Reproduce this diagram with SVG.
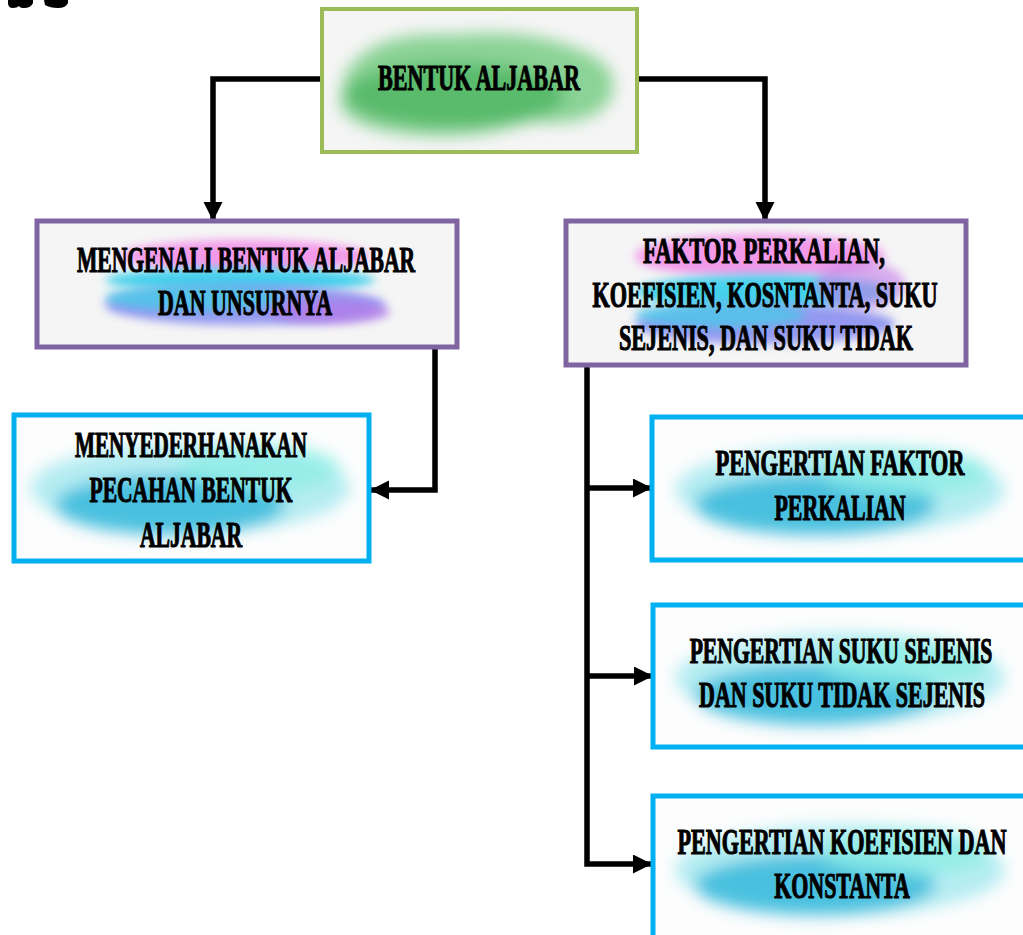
<svg xmlns="http://www.w3.org/2000/svg" width="1023" height="935" viewBox="0 0 1023 935">
  <style>
    .lbl { font-family: "Liberation Serif", "DejaVu Serif", serif; font-weight: bold; font-size: 36px; fill: #000; stroke: #000; stroke-width: 1.2; text-anchor: middle; }
    .box { fill: #f5f5f5; }
    .boxw { fill: #fdfdfd; }
    .green { stroke: #9bbb59; stroke-width: 4; }
    .purple { stroke: #8064a2; stroke-width: 5; }
    .cyan { stroke: #00b0f0; stroke-width: 5; fill: none; }
    .wire { fill: none; stroke: #000; stroke-width: 5.5; stroke-linejoin: miter; }
  </style>
  <defs>
    <marker id="arrow" markerUnits="userSpaceOnUse" markerWidth="20" markerHeight="20" refX="19" refY="9.5" orient="auto">
      <path d="M0,0 L19,9.5 L0,19 Z" fill="#000"/>
    </marker>
    <filter id="soft" x="-30%" y="-50%" width="160%" height="200%">
      <feGaussianBlur stdDeviation="8"/>
    </filter>
    <filter id="softer" x="-30%" y="-60%" width="160%" height="220%">
      <feGaussianBlur stdDeviation="5"/>
    </filter>
    <clipPath id="clipTop"><rect x="324" y="11" width="311" height="139"/></clipPath>
    <clipPath id="clipN2"><rect x="39" y="223" width="416" height="123"/></clipPath>
    <clipPath id="clipN3"><rect x="568" y="223" width="396" height="141"/></clipPath>
    <clipPath id="clipN4"><rect x="16" y="418" width="351" height="140"/></clipPath>
    <clipPath id="clipN5"><rect x="655" y="420" width="368" height="138"/></clipPath>
    <clipPath id="clipN6"><rect x="656" y="608" width="367" height="137"/></clipPath>
    <clipPath id="clipN7"><rect x="656" y="799" width="367" height="136"/></clipPath>
  </defs>

  <rect width="1023" height="935" fill="#ffffff"/>

  <!-- heading fragment at the top edge -->
  <g id="heading-fragment" fill="#000">
    <path d="M8,0 H33 V3 Q31,8 24,8 Q20,8 19,6 Q17,8 13,8 Q8,8 8,3 Z"/>
    <path d="M44,0 H68 V3 Q66,8 58,8 Q50,8 45,5 Z"/>
  </g>

  <!-- connectors -->
  <g id="connectors">
    <path class="wire" d="M322,79 H213 V221" marker-end="url(#arrow)"/>
    <path class="wire" d="M637,79 H765 V221" marker-end="url(#arrow)"/>
    <path class="wire" d="M435,348 V490 H370" marker-end="url(#arrow)"/>
    <path class="wire" d="M587,366 V864 H652" marker-end="url(#arrow)"/>
    <path class="wire" d="M587,488 H652" marker-end="url(#arrow)"/>
    <path class="wire" d="M587,676 H653" marker-end="url(#arrow)"/>
  </g>

  <!-- root -->
  <g id="bentuk-aljabar">
    <rect class="box green" x="322" y="9" width="315" height="143"/>
    <g clip-path="url(#clipTop)" filter="url(#soft)">
      <path d="M345,75 Q370,30 450,35 Q530,28 580,50 Q620,65 612,95 Q600,128 530,122 Q470,142 405,134 Q340,126 340,100 Z" fill="#7fcf8c" opacity="0.9"/>
      <ellipse cx="455" cy="95" rx="110" ry="32" fill="#4cb560" opacity="0.8"/>
    </g>
    <text class="lbl" transform="translate(479,90) scale(0.58,1)" textLength="348" lengthAdjust="spacingAndGlyphs">BENTUK ALJABAR</text>
  </g>

  <!-- left branch -->
  <g id="mengenali">
    <rect class="box purple" x="37" y="221" width="420" height="126"/>
    <g clip-path="url(#clipN2)">
      <ellipse cx="245" cy="256" rx="125" ry="16" fill="#f28ae8" opacity="0.85" filter="url(#softer)"/>
      <ellipse cx="240" cy="280" rx="135" ry="12" fill="#44d0ec" filter="url(#softer)"/>
      <ellipse cx="245" cy="305" rx="140" ry="20" fill="#8a8ff0" opacity="0.9" filter="url(#softer)"/>
      <ellipse cx="195" cy="298" rx="90" ry="13" fill="#4cc8e8" opacity="0.85" filter="url(#softer)"/>
      <ellipse cx="330" cy="312" rx="60" ry="12" fill="#b27ce8" opacity="0.8" filter="url(#softer)"/>
    </g>
    <text class="lbl" transform="translate(246,272) scale(0.58,1)" textLength="583" lengthAdjust="spacingAndGlyphs">MENGENALI BENTUK ALJABAR</text>
    <text class="lbl" transform="translate(245,315) scale(0.58,1)" textLength="300" lengthAdjust="spacingAndGlyphs">DAN UNSURNYA</text>
  </g>

  <!-- right branch -->
  <g id="faktor-perkalian">
    <rect class="box purple" x="566" y="221" width="400" height="144"/>
    <g clip-path="url(#clipN3)">
      <ellipse cx="760" cy="256" rx="125" ry="22" fill="#f28ae8" opacity="0.85" filter="url(#softer)"/>
      <ellipse cx="765" cy="292" rx="130" ry="17" fill="#44d0ec" filter="url(#softer)"/>
      <ellipse cx="765" cy="324" rx="130" ry="20" fill="#8a8ff0" opacity="0.9" filter="url(#softer)"/>
      <ellipse cx="720" cy="315" rx="85" ry="13" fill="#4cc8e8" opacity="0.8" filter="url(#softer)"/>
      <ellipse cx="860" cy="285" rx="45" ry="24" fill="#c47ce8" opacity="0.6" filter="url(#softer)"/>
    </g>
    <text class="lbl" transform="translate(764,263) scale(0.58,1)" textLength="417" lengthAdjust="spacingAndGlyphs">FAKTOR PERKALIAN,</text>
    <text class="lbl" transform="translate(765,307) scale(0.58,1)" textLength="595" lengthAdjust="spacingAndGlyphs">KOEFISIEN, KOSNTANTA, SUKU</text>
    <text class="lbl" transform="translate(766,350) scale(0.58,1)" textLength="507" lengthAdjust="spacingAndGlyphs">SEJENIS, DAN SUKU TIDAK</text>
  </g>

  <g id="menyederhanakan">
    <rect class="boxw" x="14" y="415" width="355" height="146"/>
    <g clip-path="url(#clipN4)" filter="url(#soft)">
      <ellipse cx="190" cy="488" rx="160" ry="45" fill="#a8eaf0" opacity="0.85"/>
      <ellipse cx="170" cy="505" rx="115" ry="30" fill="#38b8dc" opacity="0.85"/>
      <ellipse cx="260" cy="468" rx="80" ry="24" fill="#8ceee6" opacity="0.75"/>
    </g>
    <rect class="cyan" x="14" y="415" width="355" height="146"/>
    <text class="lbl" transform="translate(191,457) scale(0.58,1)" textLength="400" lengthAdjust="spacingAndGlyphs">MENYEDERHANAKAN</text>
    <text class="lbl" transform="translate(191,502) scale(0.58,1)" textLength="350" lengthAdjust="spacingAndGlyphs">PECAHAN BENTUK</text>
    <text class="lbl" transform="translate(191,547) scale(0.58,1)" textLength="176" lengthAdjust="spacingAndGlyphs">ALJABAR</text>
  </g>

  <g id="pengertian-faktor">
    <rect class="boxw" x="652" y="417" width="400" height="143"/>
    <g clip-path="url(#clipN5)" filter="url(#soft)">
      <ellipse cx="840" cy="490" rx="165" ry="45" fill="#a8eaf0" opacity="0.85"/>
      <ellipse cx="815" cy="505" rx="120" ry="30" fill="#38b8dc" opacity="0.85"/>
      <ellipse cx="905" cy="472" rx="85" ry="24" fill="#8ceee6" opacity="0.75"/>
    </g>
    <rect class="cyan" x="652" y="417" width="400" height="143"/>
    <text class="lbl" transform="translate(840,475) scale(0.58,1)" textLength="429" lengthAdjust="spacingAndGlyphs">PENGERTIAN FAKTOR</text>
    <text class="lbl" transform="translate(840,520) scale(0.58,1)" textLength="226" lengthAdjust="spacingAndGlyphs">PERKALIAN</text>
  </g>

  <g id="pengertian-suku">
    <rect class="boxw" x="653" y="605" width="400" height="142"/>
    <g clip-path="url(#clipN6)" filter="url(#soft)">
      <ellipse cx="840" cy="678" rx="165" ry="45" fill="#a8eaf0" opacity="0.85"/>
      <ellipse cx="815" cy="695" rx="120" ry="30" fill="#38b8dc" opacity="0.85"/>
      <ellipse cx="905" cy="662" rx="85" ry="24" fill="#8ceee6" opacity="0.75"/>
    </g>
    <rect class="cyan" x="653" y="605" width="400" height="142"/>
    <text class="lbl" transform="translate(841,663) scale(0.58,1)" textLength="522" lengthAdjust="spacingAndGlyphs">PENGERTIAN SUKU SEJENIS</text>
    <text class="lbl" transform="translate(842,707) scale(0.58,1)" textLength="493" lengthAdjust="spacingAndGlyphs">DAN SUKU TIDAK SEJENIS</text>
  </g>

  <g id="pengertian-koefisien">
    <rect class="boxw" x="653" y="796" width="400" height="200"/>
    <g clip-path="url(#clipN7)" filter="url(#soft)">
      <ellipse cx="840" cy="870" rx="165" ry="45" fill="#a8eaf0" opacity="0.85"/>
      <ellipse cx="815" cy="885" rx="120" ry="30" fill="#38b8dc" opacity="0.85"/>
      <ellipse cx="905" cy="852" rx="85" ry="24" fill="#8ceee6" opacity="0.75"/>
    </g>
    <rect class="cyan" x="653" y="796" width="400" height="200"/>
    <text class="lbl" transform="translate(842,854) scale(0.58,1)" textLength="567" lengthAdjust="spacingAndGlyphs">PENGERTIAN KOEFISIEN DAN</text>
    <text class="lbl" transform="translate(842,898) scale(0.58,1)" textLength="234" lengthAdjust="spacingAndGlyphs">KONSTANTA</text>
  </g>
</svg>
